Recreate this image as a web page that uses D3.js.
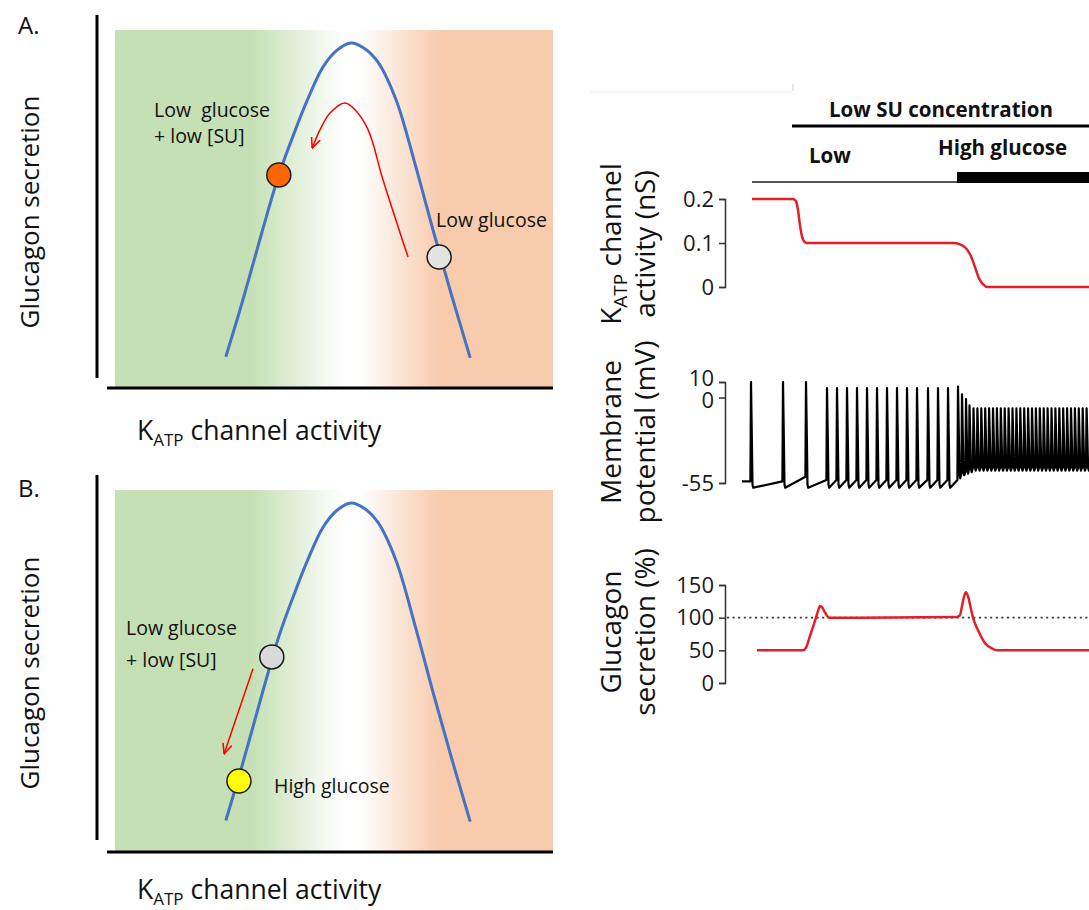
<!DOCTYPE html>
<html>
<head>
<meta charset="utf-8">
<script src="https://cdnjs.cloudflare.com/ajax/libs/d3/7.8.5/d3.min.js"></script>
<style>
  body { margin: 0; background: #fff; }
  svg text { font-family: "Open Sans", sans-serif; }
</style>
</head>
<body>
<svg id="chart" width="1089" height="910"></svg>
<script>
// ---- left schematics: KATP activity (x) vs glucagon secretion (y), 0-100 units
var bellX = [25.3, 29.2, 33.5, 37.4, 40.9, 43.9, 47.5, 50.7, 53.9, 56.8, 60.0, 64.2, 68.7, 72.8, 76.9, 81.1];
var bellY = [8.7, 24.6, 43.3, 59.5, 71.2, 80.4, 89.7, 94.4, 96.4, 95.0, 91.1, 80.4, 61.7, 43.3, 25.7, 8.4];

var arrowAX = [66.9, 61.2, 57.8, 54.8, 52.5, 49.1, 46.8, 45.0];
var arrowAY = [36.6, 58.1, 72.1, 77.7, 79.6, 76.8, 72.1, 67.0];
var arrowBX = [31.5, 24.9];
var arrowBY = [50.6, 27.1];

var dotsAX = [37.4, 74.0];
var dotsAY = [59.5, 36.6];
var dotsBX = [35.8, 28.3];
var dotsBY = [53.9, 19.6];

// ---- right traces, time in arbitrary units
var katpT  = [12, 53, 56, 58, 60, 62, 64, 67, 213, 220, 226, 231, 235, 239, 243, 248, 349];
var katpNS = [0.2, 0.2, 0.195, 0.175, 0.14, 0.115, 0.104, 0.1, 0.1, 0.097, 0.088, 0.07, 0.045, 0.02, 0.006, 0, 0];

var glucT   = [17, 63, 66, 70, 75, 78, 80, 82, 85, 89, 217, 220, 222, 224, 226, 228, 231, 233, 238, 245, 253, 258, 349];
var glucPct = [50, 50, 54, 72, 95, 110, 118, 116, 108, 100, 101, 104, 118, 132, 139, 133, 113, 100, 81, 61, 52, 50, 50];

var vmStart = [2, -54];
var vmEnd = [349, -46];
var spikeT = [11, 43, 66, 87, 97, 107, 117, 127, 137, 147, 157, 167, 177, 188, 198, 208, 218,
  222, 226, 229.5,
  233.5, 237.4, 241.3, 245.2, 249.1, 253, 256.9, 260.8, 264.7, 268.6, 272.5, 276.4, 280.3, 284.2, 288.1,
  292, 295.9, 299.8, 303.7, 307.6, 311.5, 315.4, 319.3, 323.2, 327.1, 331, 334.9, 338.8, 342.7, 346.6];
var spikePeak = [10, 10, 10, 6, 6, 6, 6, 6, 6, 6, 6, 6, 6, 6, 6, 6, 7,
  2, -1, -5,
  -7, -7, -7, -7, -7, -7, -7, -7, -7, -7, -7, -7, -7, -7, -7,
  -7, -7, -7, -7, -7, -7, -7, -7, -7, -7, -7, -7, -7, -7, -7];
var spikePre = [-54, -54, -51, -53, -53, -53, -53, -53, -53, -53, -53, -53, -53, -53, -53, -53, -53,
  -49, -48, -46,
  -45, -45, -45, -45, -45, -45, -45, -45, -45, -45, -45, -45, -45, -45, -45,
  -45, -45, -45, -45, -45, -45, -45, -45, -45, -45, -45, -45, -45, -45, -45];
var spikeTrough = [-58, -58, -58, -58, -58, -58, -58, -58, -58, -58, -58, -58, -58, -58, -58, -58, -52,
  -50, -49, -48,
  -47, -47, -47, -47, -47, -47, -47, -47, -47, -47, -47, -47, -47, -47, -47,
  -47, -47, -47, -47, -47, -47, -47, -47, -47, -47, -47, -47, -47, -47, -47];

var katpTicks = [0, 0.1, 0.2];
var vmTicks = [-55, 0, 10];
var glucTicks = [0, 50, 100, 150];
var suStartT = 52, glucoseSwitchT = 217;

var svg = d3.select("#chart");
var defs = svg.append("defs");

var grad = defs.append("linearGradient").attr("id", "bgGrad")
  .attr("x1", 0).attr("x2", 1).attr("y1", 0).attr("y2", 0);
[[0, "#c5e0b4"], [0.31, "#c5e0b4"], [0.52, "#ffffff"], [0.56, "#ffffff"], [0.74, "#f8cbad"], [1, "#f8cbad"]]
  .forEach(function(s) { grad.append("stop").attr("offset", s[0]).attr("stop-color", s[1]); });

defs.append("marker").attr("id", "arrowHead")
  .attr("viewBox", "0 0 10 10").attr("refX", 9.5).attr("refY", 5)
  .attr("markerWidth", 11).attr("markerHeight", 11)
  .attr("markerUnits", "userSpaceOnUse").attr("orient", "auto")
  .append("path").attr("d", "M0,0.8 L9.5,5 L0,9.2")
  .attr("fill", "none").attr("stroke", "#ff0000").attr("stroke-width", 1.4);

function drawSchematic(p) {
  var x = d3.scaleLinear().domain([0, 100]).range([115, 553]);
  var y = d3.scaleLinear().domain([0, 100]).range([p.bottom, p.top]);
  var g = svg.append("g");

  g.append("rect").attr("x", x(0)).attr("y", y(100))
    .attr("width", x(100) - x(0)).attr("height", y(0) - y(100))
    .attr("fill", "url(#bgGrad)");
  g.append("line").attr("x1", 97).attr("x2", 97).attr("y1", p.axisTop).attr("y2", p.axisBottom)
    .attr("stroke", "#000").attr("stroke-width", 3);
  g.append("line").attr("x1", 107).attr("x2", x(100)).attr("y1", y(0)).attr("y2", y(0))
    .attr("stroke", "#000").attr("stroke-width", 3);

  var line = d3.line().x(function(d) { return x(d[0]); }).y(function(d) { return y(d[1]); })
    .curve(d3.curveCatmullRom.alpha(0.5));

  g.append("path").datum(d3.zip(bellX, bellY)).attr("d", line)
    .attr("fill", "none").attr("stroke", "#4472c4").attr("stroke-width", 3);

  g.append("path").datum(d3.zip(p.arrowX, p.arrowY)).attr("d", line)
    .attr("fill", "none").attr("stroke", "#ff0000").attr("stroke-width", 1.5)
    .attr("marker-end", "url(#arrowHead)");

  g.selectAll("circle.dot").data(d3.zip(p.dotX, p.dotY)).enter().append("circle")
    .attr("cx", function(d) { return x(d[0]); }).attr("cy", function(d) { return y(d[1]); })
    .attr("r", 12).attr("fill", function(d, i) { return p.dotFill[i]; })
    .attr("stroke", "#1a1a1a").attr("stroke-width", 1.5);

  p.notes.forEach(function(n) {
    g.append("text").attr("x", n[1]).attr("y", n[2]).style("white-space", "pre")
      .attr("font-size", 19.5).attr("fill", "#111").text(n[0]);
  });

  g.append("text").attr("x", 18).attr("y", p.letterY).attr("font-size", 24).attr("fill", "#111").text(p.letter);

  g.append("text").attr("transform", "translate(39," + p.yLabelY + ") rotate(-90)")
    .attr("text-anchor", "middle").attr("font-size", 26).attr("fill", "#111").text("Glucagon secretion");

  var xl = g.append("text").attr("x", 137).attr("y", p.xLabelY).attr("font-size", 26.5).attr("fill", "#111");
  xl.append("tspan").text("K");
  xl.append("tspan").attr("font-size", 17).attr("dy", 6).text("ATP");
  xl.append("tspan").attr("dy", -6).text(" channel activity");
}

drawSchematic({
  top: 30, bottom: 388, axisTop: 15, axisBottom: 378, letter: "A.", letterY: 34,
  yLabelY: 212, xLabelY: 440,
  arrowX: arrowAX, arrowY: arrowAY, dotX: dotsAX, dotY: dotsAY, dotFill: ["#ff6600", "#e3e3e3"],
  notes: [["Low  glucose", 154, 117], ["+ low [SU]", 154, 143], ["Low glucose", 436, 227]]
});
drawSchematic({
  top: 490, bottom: 852, axisTop: 475, axisBottom: 840, letter: "B.", letterY: 497,
  yLabelY: 673, xLabelY: 899,
  arrowX: arrowBX, arrowY: arrowBY, dotX: dotsBX, dotY: dotsBY, dotFill: ["#d9d9d9", "#ffff00"],
  notes: [["Low glucose", 126, 635], ["+ low [SU]", 126, 667], ["High glucose", 274, 793]]
});

// ---- right traces
var t = d3.scaleLinear().domain([0, 350]).range([740, 1090]);
var yK = d3.scaleLinear().domain([0, 0.2]).range([287, 199]);
var yV = d3.scaleLinear().domain([-55, 10]).range([483, 382]);
var yG = d3.scaleLinear().domain([0, 150]).range([683, 585]);
var helv = "'Liberation Sans', Arial, Helvetica, sans-serif";

function axis(scale, ticks, fmt) {
  var g = svg.append("g").attr("transform", "translate(725,0)")
    .call(d3.axisLeft(scale).tickValues(ticks).tickSize(6).tickSizeOuter(6).tickPadding(5).tickFormat(fmt));
  g.select(".domain").attr("stroke", "#333").attr("stroke-width", 1.5);
  g.selectAll(".tick line").attr("stroke", "#333").attr("stroke-width", 1.5);
  g.selectAll(".tick text").attr("font-family", helv).attr("font-size", 22).attr("fill", "#1a1a1a");
  return g;
}
axis(yK, katpTicks, function(d) { return d === 0 ? "0" : d.toFixed(1); });
var vmAxis = axis(yV, vmTicks, function(d) { return String(d); });
// "10" and "0" sit very close in the original: pull them apart a little
vmAxis.selectAll(".tick text").attr("dy", function(d) { return d === 10 ? "0.15em" : d === 0 ? "0.47em" : "0.32em"; });
axis(yG, glucTicks, function(d) { return String(d); });

function yLabel(cy, line1, line2) {
  var g = svg.append("g").attr("font-family", helv).attr("font-size", 28).attr("fill", "#111");
  var a = g.append("text").attr("transform", "translate(621," + cy + ") rotate(-90)").attr("text-anchor", "middle");
  line1(a);
  g.append("text").attr("transform", "translate(655," + cy + ") rotate(-90)").attr("text-anchor", "middle").text(line2);
}
yLabel(244, function(a) {
  a.append("tspan").text("K");
  a.append("tspan").attr("font-size", 19).attr("dy", 6).text("ATP");
  a.append("tspan").attr("dy", -6).text(" channel");
}, "activity (nS)");
yLabel(432, function(a) { a.text("Membrane"); }, "potential (mV)");
yLabel(632, function(a) { a.text("Glucagon"); }, "secretion (%)");

var lineK = d3.line().x(function(d) { return t(d[0]); }).y(function(d) { return yK(d[1]); }).curve(d3.curveMonotoneX);
svg.append("path").datum(d3.zip(katpT, katpNS)).attr("d", lineK)
  .attr("fill", "none").attr("stroke", "#e41e26").attr("stroke-width", 2.5);

// membrane potential trace built from spike times / peaks / troughs
var vm = [vmStart];
spikeT.forEach(function(ts, i) {
  var pk = spikePeak[i], tr = spikeTrough[i];
  vm.push([ts - 0.6, spikePre[i]]);
  vm.push([ts, pk]);
  vm.push([ts + 0.8, pk - 0.5 * (pk - tr)]);
  vm.push([ts + 1.5, tr + 2]);
  vm.push([ts + 2.2, tr]);
});
vm.push(vmEnd);
var lineV = d3.line().x(function(d) { return t(d[0]); }).y(function(d) { return yV(d[1]); });
svg.append("path").datum(vm).attr("d", lineV)
  .attr("fill", "none").attr("stroke", "#000").attr("stroke-width", 2.2).attr("stroke-linejoin", "round");

svg.append("line").attr("x1", 727).attr("x2", 1089).attr("y1", yG(100)).attr("y2", yG(100))
  .attr("stroke", "#333").attr("stroke-width", 1.8).attr("stroke-dasharray", "2,3.6");
var lineG = d3.line().x(function(d) { return t(d[0]); }).y(function(d) { return yG(d[1]); }).curve(d3.curveMonotoneX);
svg.append("path").datum(d3.zip(glucT, glucPct)).attr("d", lineG)
  .attr("fill", "none").attr("stroke", "#e41e26").attr("stroke-width", 2.5);

// ---- condition bars on top
svg.append("line").attr("x1", 590).attr("x2", 792).attr("y1", 92).attr("y2", 92).attr("stroke", "#f0f0f0").attr("stroke-width", 1);
svg.append("line").attr("x1", 793).attr("x2", 793).attr("y1", 84).attr("y2", 91).attr("stroke", "#cfcfcf").attr("stroke-width", 1);

svg.append("text").attr("x", 941).attr("y", 117).attr("text-anchor", "middle")
  .attr("font-weight", "bold").attr("font-size", 20.5).attr("fill", "#111").text("Low SU concentration");
svg.append("line").attr("x1", t(suStartT)).attr("x2", 1089).attr("y1", 126).attr("y2", 126)
  .attr("stroke", "#000").attr("stroke-width", 3);

svg.append("text").attr("x", 809).attr("y", 163).attr("font-weight", "bold").attr("font-size", 20.5).attr("fill", "#111").text("Low");
svg.append("text").attr("x", 938).attr("y", 155).attr("font-weight", "bold").attr("font-size", 20.5).attr("fill", "#111").text("High glucose");
svg.append("line").attr("x1", t(12)).attr("x2", t(glucoseSwitchT)).attr("y1", 182).attr("y2", 182)
  .attr("stroke", "#555").attr("stroke-width", 2);
svg.append("rect").attr("x", t(glucoseSwitchT)).attr("y", 172).attr("width", 1089 - t(glucoseSwitchT)).attr("height", 11).attr("fill", "#000");
</script>
</body>
</html>
